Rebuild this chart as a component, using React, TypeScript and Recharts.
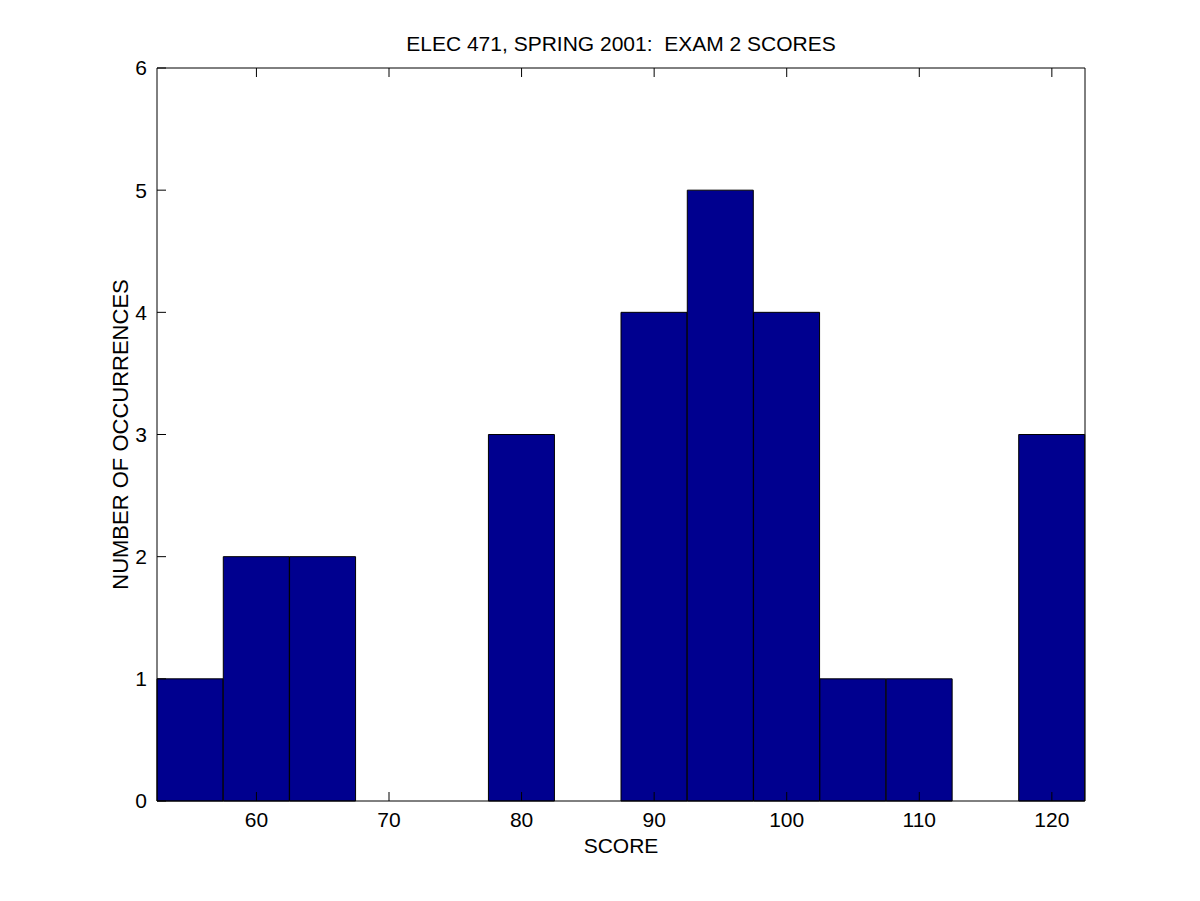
import React from "react";
import { ComposedChart, Bar, XAxis, YAxis, Label } from "recharts";

const binCenters = [55, 60, 65, 70, 75, 80, 85, 90, 95, 100, 105, 110, 115, 120];
const counts = [1, 2, 2, 0, 0, 3, 0, 4, 5, 4, 1, 1, 0, 3];
const xTicks = [60, 70, 80, 90, 100, 110, 120];
const yTicks = [0, 1, 2, 3, 4, 5, 6];
const xDomain: [number, number] = [52.5, 122.5];
const yDomain: [number, number] = [0, 6];
const title = "ELEC 471, SPRING 2001:\u00a0 EXAM 2 SCORES";
const xLabel = "SCORE";
const yLabel = "NUMBER OF OCCURRENCES";

const data = binCenters.map((s, i) => ({ score: s, count: counts[i] }));

const FONT = "'Liberation Sans', Arial, Helvetica, sans-serif";
const tickStyle = { fill: "#000", fontSize: 21, fontFamily: FONT };
const noLabel = () => <g />;

export default function App() {
  return (
    <div style={{ position: "absolute", left: 0, top: 0, width: 1200, height: 901, background: "#fff" }}>
      <ComposedChart
        width={1200}
        height={901}
        data={data}
        margin={{ top: 67, right: 114, bottom: 40, left: 0 }}
        barCategoryGap={0}
        barGap={0}
      >
        <XAxis xAxisId="cat" dataKey="score" type="category" hide height={0} />
        <XAxis
          xAxisId="num"
          dataKey="score"
          type="number"
          domain={xDomain}
          ticks={xTicks}
          allowDataOverflow
          height={60}
          tickSize={-9}
          tickMargin={20}
          axisLine={{ stroke: "#000", strokeWidth: 1 }}
          tickLine={{ stroke: "#000", strokeWidth: 1 }}
          tick={tickStyle}
        >
          <Label value={xLabel} position="insideBottom" offset={8} style={{ fill: "#000", fontSize: 21, fontFamily: FONT }} />
        </XAxis>
        <XAxis
          xAxisId="top"
          orientation="top"
          dataKey="score"
          type="number"
          domain={xDomain}
          ticks={xTicks}
          allowDataOverflow
          height={1}
          tickSize={-9}
          tick={noLabel}
          axisLine={{ stroke: "#000", strokeWidth: 1 }}
          tickLine={{ stroke: "#000", strokeWidth: 1 }}
        >
          <Label value={title} position="top" offset={16} style={{ fill: "#000", fontSize: 21, fontFamily: FONT }} />
        </XAxis>
        <YAxis
          yAxisId="left"
          orientation="left"
          type="number"
          domain={yDomain}
          ticks={yTicks}
          width={157}
          tickSize={-9}
          tickMargin={19}
          axisLine={{ stroke: "#000", strokeWidth: 1 }}
          tickLine={{ stroke: "#000", strokeWidth: 1 }}
          tick={tickStyle}
        >
          <Label
            value={yLabel}
            angle={-90}
            position="insideLeft"
            offset={120}
            style={{ fill: "#000", fontSize: 22, fontFamily: FONT, textAnchor: "middle" }}
          />
        </YAxis>
        <YAxis
          yAxisId="right"
          orientation="right"
          type="number"
          domain={yDomain}
          ticks={yTicks}
          width={1}
          tickSize={-9}
          tick={noLabel}
          axisLine={{ stroke: "#000", strokeWidth: 1 }}
          tickLine={{ stroke: "#000", strokeWidth: 1 }}
        />
        <Bar
          xAxisId="cat"
          yAxisId="left"
          dataKey="count"
          fill="#00008F"
          stroke="#000"
          strokeWidth={1}
          isAnimationActive={false}
        />
      </ComposedChart>
    </div>
  );
}
